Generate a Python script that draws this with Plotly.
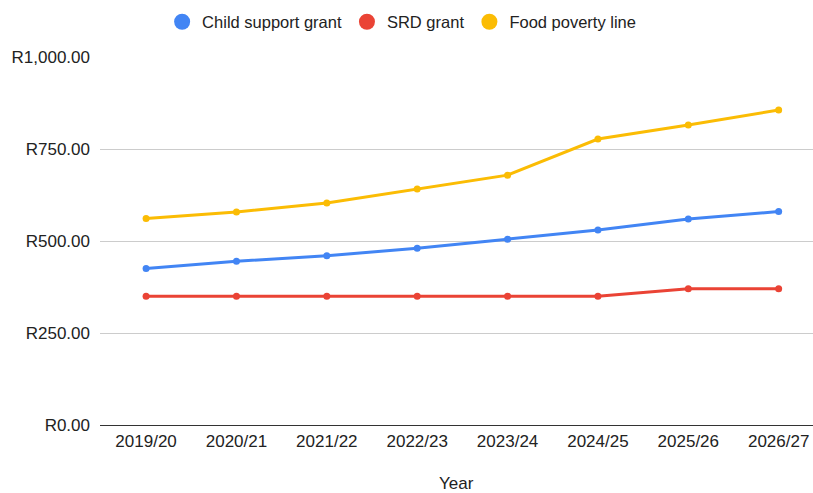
import plotly.graph_objects as go

years = ["2019/20", "2020/21", "2021/22", "2022/23", "2023/24", "2024/25", "2025/26", "2026/27"]
child_support = [425, 445, 460, 480, 505, 530, 560, 580]
srd_grant = [350, 350, 350, 350, 350, 350, 370, 370]
food_poverty = [561, 579, 603, 641, 679, 777, 815, 856]

series = [
    ("Child support grant", child_support, "#4285F4"),
    ("SRD grant", srd_grant, "#EA4335"),
    ("Food poverty line", food_poverty, "#FBBC04"),
]

FONT = "Liberation Sans, Arial, sans-serif"
fig = go.Figure()
for name, vals, col in series:
    fig.add_trace(go.Scatter(
        x=years, y=vals, name=name, mode="lines+markers",
        line=dict(color=col, width=3), marker=dict(color=col, size=7),
        showlegend=False,
    ))
for name, vals, col in series:
    fig.add_trace(go.Scatter(
        x=[years[0]], y=[None], name=name, mode="markers",
        marker=dict(color=col, size=16), showlegend=True,
    ))

fig.update_layout(
    width=813, height=493,
    margin=dict(l=100, r=0, t=57, b=68, autoexpand=False),
    paper_bgcolor="white", plot_bgcolor="white",
    font=dict(family=FONT, size=17, color="#222222"),
    legend=dict(orientation="h", x=0.494, xanchor="center", xref="container",
                y=1 - 22 / 493, yanchor="middle", yref="container",
                font=dict(size=16.5, color="#222222"),
                itemsizing="trace", itemwidth=30, tracegroupgap=0),
    showlegend=True,
    annotations=[dict(text="Year", xref="paper", yref="paper", x=0.5, y=-58 / 368,
                      xanchor="center", yanchor="middle", showarrow=False,
                      font=dict(size=17, color="#222222"))],
)
fig.update_xaxes(
    type="category", range=[-0.51, 7.38], showgrid=False,
    showline=True, linecolor="#333333", linewidth=1,
    ticks="", ticklabelstandoff=1,
    tickfont=dict(size=17, color="#222222"),
)
fig.update_yaxes(
    range=[0, 1000], tickvals=[0, 250, 500, 750, 1000],
    ticktext=["R0.00", "R250.00", "R500.00", "R750.00", "R1,000.00"],
    showgrid=True, gridcolor="#cccccc", gridwidth=1,
    zeroline=True, zerolinecolor="#333333", zerolinewidth=1,
    ticks="", ticklabelstandoff=9,
    tickfont=dict(size=17, color="#222222"),
)

fig.write_html("out.html")
